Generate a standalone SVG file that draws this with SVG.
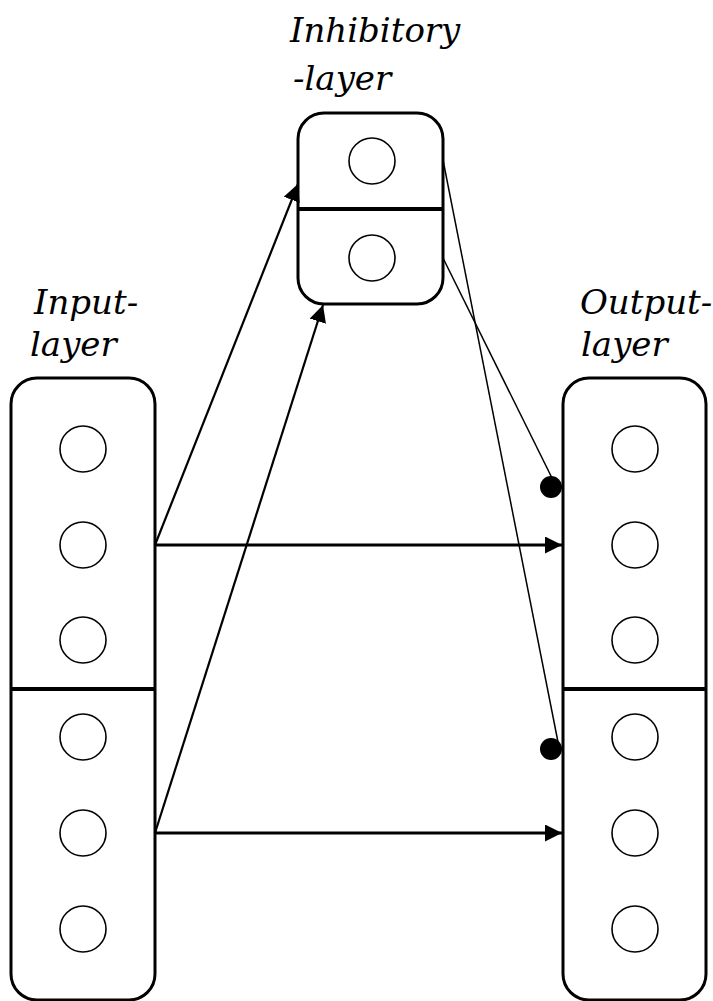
<svg xmlns="http://www.w3.org/2000/svg" width="713" height="1001" viewBox="0 0 713 1001">
<style>
.box{fill:#fff;stroke:#000;stroke-width:3}
.div{stroke:#000;stroke-width:4}
.n{fill:#fff;stroke:#000;stroke-width:1.6}
.lbl{font-family:"DejaVu Serif","Liberation Serif",serif;font-style:italic;font-size:34px;fill:#000}
.arr{stroke:#000;stroke-width:3;fill:none}
.diag{stroke:#000;stroke-width:2.2;fill:none}
.inh{stroke:#000;stroke-width:1.5;fill:none}
</style>
<defs>
<marker id="ah" viewBox="0 0 16 16" refX="16" refY="8" markerWidth="17" markerHeight="17" markerUnits="userSpaceOnUse" orient="auto">
<path d="M0,0 L16,8 L0,16 Z" fill="#000"/>
</marker>
</defs>
<g id="input-layer">
<rect class="box" x="11" y="378" width="144" height="622" rx="26" ry="26"/>
<line class="div" x1="11" y1="689" x2="155" y2="689"/>
<circle class="n" cx="83" cy="449" r="23"/>
<circle class="n" cx="83" cy="545" r="23"/>
<circle class="n" cx="83" cy="640" r="23"/>
<circle class="n" cx="83" cy="737" r="23"/>
<circle class="n" cx="83" cy="833" r="23"/>
<circle class="n" cx="83" cy="929" r="23"/>
<text class="lbl" x="34" y="314">Input-</text>
<text class="lbl" x="30" y="356">layer</text>
</g>
<g id="output-layer">
<rect class="box" x="563" y="378" width="143" height="622" rx="26" ry="26"/>
<line class="div" x1="563" y1="689" x2="706" y2="689"/>
<circle class="n" cx="635" cy="449" r="23"/>
<circle class="n" cx="635" cy="545" r="23"/>
<circle class="n" cx="635" cy="640" r="23"/>
<circle class="n" cx="635" cy="737" r="23"/>
<circle class="n" cx="635" cy="833" r="23"/>
<circle class="n" cx="635" cy="929" r="23"/>
<text class="lbl" x="580" y="314">Output-</text>
<text class="lbl" x="581" y="356">layer</text>
</g>
<g id="inhibitory-layer">
<rect class="box" x="298" y="113" width="145" height="191" rx="26" ry="26"/>
<line class="div" x1="298" y1="209" x2="443" y2="209"/>
<circle class="n" cx="372" cy="161" r="23"/>
<circle class="n" cx="372" cy="258" r="23"/>
<text class="lbl" x="290" y="42">Inhibitory</text>
<text class="lbl" x="293" y="90">-layer</text>
</g>
<g id="connectors">
<line class="arr" x1="155" y1="545" x2="562" y2="545" marker-end="url(#ah)"/>
<line class="arr" x1="155" y1="833" x2="562" y2="833" marker-end="url(#ah)"/>
<line class="diag" x1="155" y1="545" x2="298" y2="184" marker-end="url(#ah)"/>
<line class="diag" x1="155" y1="833" x2="323" y2="305" marker-end="url(#ah)"/>
<line class="inh" x1="443" y1="160" x2="558" y2="742"/>
<line class="inh" x1="443" y1="258" x2="553" y2="480"/>
<circle cx="551" cy="487" r="11" fill="#000"/>
<circle cx="551" cy="749" r="11" fill="#000"/>
</g>
</svg>
